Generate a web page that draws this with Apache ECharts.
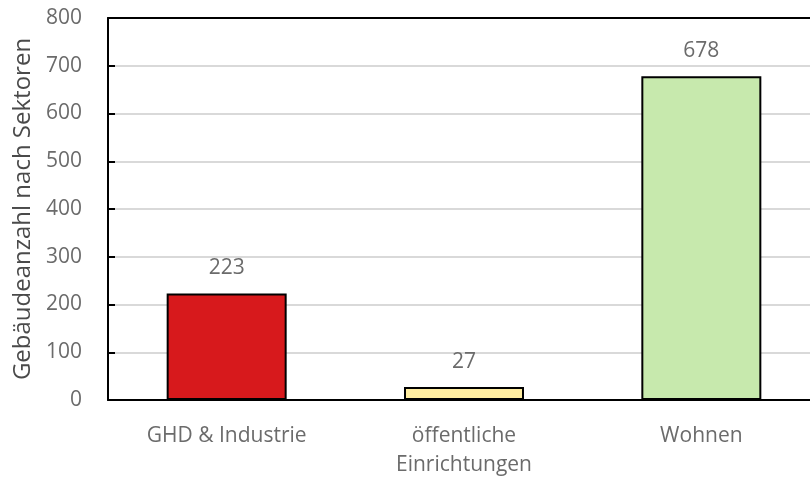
<!DOCTYPE html>
<html><head><meta charset="utf-8">
<script src="https://cdn.jsdelivr.net/npm/echarts@6/dist/echarts.min.js"></script>
<style>html,body{margin:0;padding:0;background:#fff}#c{width:810px;height:481px}</style>
</head><body><div id="c"></div>
<script>
var categories = ['GHD & Industrie', 'öffentliche\nEinrichtungen', 'Wohnen'];
var values = [223, 27, 678];
var colors = ['#d7191c', '#ffeda0', '#c7e9ad'];
var yTicks = [0, 100, 200, 300, 400, 500, 600, 700, 800];
var font = '"Open Sans", "Noto Sans", sans-serif';
var chart = echarts.init(document.getElementById('c'));
chart.setOption({
  animation: false,
  grid: {left: 108, width: 712, top: 18, bottom: 81, containLabel: false, outerBoundsMode: 'none'},
  xAxis: [{
    type: 'category', data: categories,
    axisLine: {lineStyle: {color: '#000', width: 2}},
    axisTick: {show: false},
    axisLabel: {color: '#6b6b6b', fontSize: 21, fontFamily: font, margin: 22, lineHeight: 29}
  }, {
    type: 'category', data: categories, position: 'top',
    axisLine: {show: true, lineStyle: {color: '#000', width: 2}},
    axisTick: {show: false}, axisLabel: {show: false}
  }],
  yAxis: {
    type: 'value', min: 0, max: 800, interval: 100,
    name: 'Gebäudeanzahl nach Sektoren', nameLocation: 'middle', nameGap: 72,
    nameTextStyle: {color: '#4a4a4a', fontSize: 24, fontFamily: font},
    axisLine: {show: true, lineStyle: {color: '#000', width: 2}},
    axisTick: {show: true, inside: true, length: 7, lineStyle: {color: '#000', width: 2}},
    axisLabel: {color: '#6b6b6b', fontSize: 21, fontFamily: font, margin: 26,
      formatter: function (v) { return yTicks.indexOf(v) >= 0 ? String(v) : ''; }},
    splitLine: {lineStyle: {color: '#d9d9d9', width: 2}}
  },
  series: [{
    type: 'bar', barWidth: 120,
    data: values.map(function (v, i) { return {value: v, itemStyle: {color: colors[i]}}; }),
    itemStyle: {borderColor: '#000', borderWidth: 2},
    label: {show: true, position: 'top', distance: 15, color: '#6b6b6b', fontSize: 21, fontFamily: font}
  }]
});
</script></body></html>
